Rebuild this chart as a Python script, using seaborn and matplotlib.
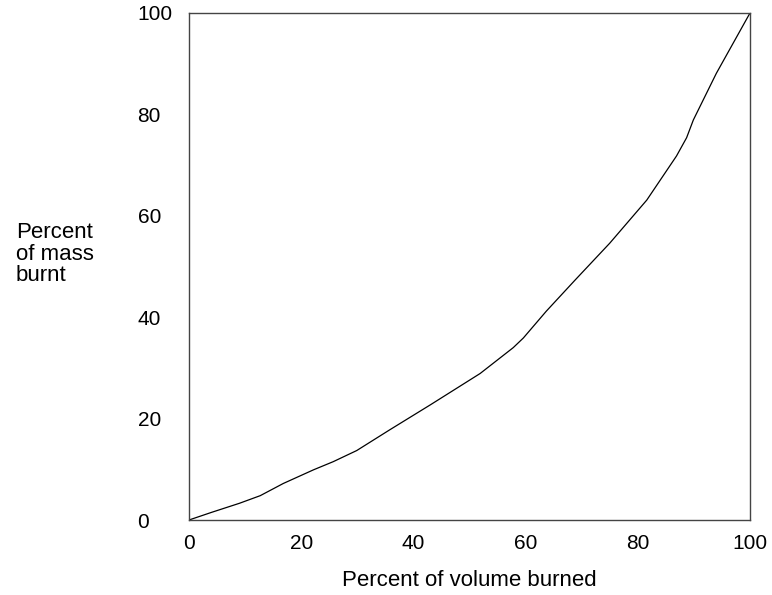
import numpy as np
import pandas as pd
import matplotlib.pyplot as plt
import seaborn as sns

volume = [0, 4, 9, 12.7, 16.8, 22.2, 25.7, 29.9, 35.8, 43, 51.9, 57.8, 59.6, 63.7,
          68.8, 75, 81.6, 86.9, 88.7, 89.9, 94.0, 100]
mass = [0, 1.5, 3.3, 4.8, 7.2, 9.9, 11.5, 13.7, 17.8, 22.7, 28.9, 34.0, 35.9, 41.2,
        47.3, 54.6, 63.1, 71.8, 75.4, 78.9, 88.1, 100]
xticks = [0, 20, 40, 60, 80, 100]
yticks = [0, 20, 40, 60, 80, 100]

df = pd.DataFrame({'volume': volume, 'mass': mass})

sns.set_style('white')
plt.rcParams['font.family'] = ['Liberation Sans', 'DejaVu Sans']

fig = plt.figure(figsize=(7.72, 5.95), dpi=100)
ax = fig.add_axes([189 / 772, 75 / 595, 561 / 772, 507 / 595])
sns.lineplot(data=df, x='volume', y='mass', ax=ax, color='black', linewidth=0.9)

ax.set_xlim(0, 100)
ax.set_ylim(0, 100)
ax.set_xticks(xticks)
ax.set_yticks(yticks)
ax.tick_params(length=0, labelsize=15, labelcolor='black')
ax.tick_params(axis='x', pad=10)
# y tick labels are left-aligned in the original
ax.tick_params(axis='y', pad=37)
for t in ax.get_yticklabels():
    t.set_horizontalalignment('left')
for s in ax.spines.values():
    s.set_color('#444444')
    s.set_linewidth(1.0)

ax.set_xlabel('Percent of volume burned', fontsize=16, labelpad=12, color='black')
ax.set_ylabel('')
fig.text(16 / 772, 1 - 254 / 595, 'Percent\nof mass\nburnt', fontsize=16,
         ha='left', va='center', linespacing=1.05, color='black')

plt.savefig('out.png', dpi=100)
